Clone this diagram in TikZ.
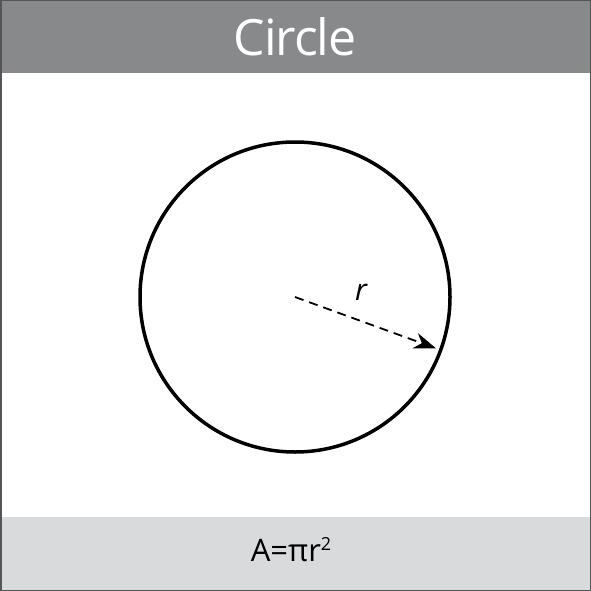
\documentclass[tikz,border=0pt]{standalone}
\usepackage{fontspec}
\setmainfont{Open Sans}
\usepackage{xcolor}
\usetikzlibrary{arrows.meta,positioning,calc}
\definecolor{titlegray}{HTML}{88898B}
\definecolor{footgray}{HTML}{D9DADC}
\definecolor{framegray}{HTML}{555555}

\begin{document}
\begin{tikzpicture}[x=1pt, y=-1pt, every node/.style={inner sep=0pt}]
  \useasboundingbox (0,0) rectangle (591,591);
  % bars
  \fill[titlegray] (0,0) rectangle (591,73);
  \fill[footgray] (0,517) rectangle (591,591);
  \draw[framegray, line width=1.5pt] (0.75,0.75) rectangle (590.25,590.25);
  \node[text=white, font=\fontsize{50}{50}\selectfont\addfontfeature{LetterSpace=-2}] (title) at (295,37) {Circle};
  \node[font=\fontsize{31}{31}\selectfont] (area) at (291,550) {A=πr\raisebox{11pt}{\fontsize{18}{18}\selectfont 2}};
  % circle and radius
  \coordinate (ctr) at (295,297);
  \node[draw, circle, line width=3.5pt, minimum size=310pt] (circ) at (ctr) {};
  \coordinate (rim) at ($(ctr)+(20:150)$);
  \draw[line width=1.8pt, dash pattern=on 9pt off 6pt, -{Stealth[length=22pt, width=16pt, inset=7pt]}] (ctr) -- (rim);
  \node[font=\fontsize{30}{30}\selectfont\itshape] (rad) at (361,292) {r};
\end{tikzpicture}
\end{document}
